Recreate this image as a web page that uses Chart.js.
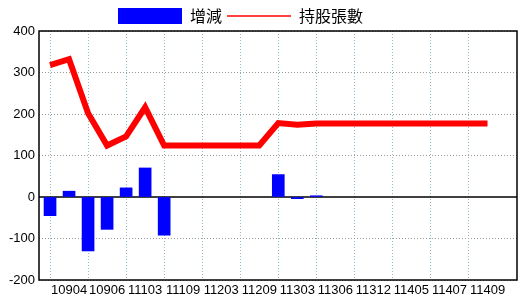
<!DOCTYPE html>
<html>
<head>
<meta charset="utf-8">
<script src="https://cdn.jsdelivr.net/npm/chart.js@4/dist/chart.umd.min.js"></script>
<style>
  html, body { margin: 0; padding: 0; background: #fff; }
  #wrap { width: 520px; height: 300px; }
</style>
</head>
<body>
<div id="wrap"><canvas id="chart" width="520" height="300"></canvas></div>
<script>
// ── Data ──────────────────────────────────────────────────────────────────────
const PERIODS = ['10903','10904','10905','10906','11012','11103','11106','11109',
                 '11112','11203','11206','11209','11212','11303','11304','11306',
                 '11309','11312','11403','11405','11406','11407','11408','11409'];
const CHANGE  = [-45, 14, -130, -78, 22, 70, -92, 0, 0, 0, 0, 0,
                  54, -4, 3, 0, 0, 0, 0, 0, 0, 0, 0, 0];
const HOLDING = [318, 332, 202, 124, 146, 216, 124, 124, 124, 124, 124, 124,
                 178, 174, 177, 177, 177, 177, 177, 177, 177, 177, 177, 177];
const Y_TICKS = [-200, -100, 0, 100, 200, 300, 400];

const BAR_COLOR  = '#0000ff';
const LINE_COLOR = '#ff0000';
const FONT = "'Liberation Sans Narrow', 'Liberation Sans', Arial, sans-serif";

// ── Frame + zero line ────────────────────────────────────────────────────────
const framePlugin = {
  id: 'frame',
  beforeDatasetsDraw(chart) {
    const { ctx, chartArea: a, scales: { y } } = chart;
    const y0 = y.getPixelForValue(0);
    ctx.save();
    ctx.strokeStyle = '#000';
    ctx.lineWidth = 1.5;
    ctx.beginPath();
    ctx.moveTo(a.left, y0);
    ctx.lineTo(a.right, y0);
    ctx.stroke();
    ctx.restore();
  },
  afterDatasetsDraw(chart) {
    const { ctx, chartArea: a } = chart;
    ctx.save();
    ctx.strokeStyle = '#000';
    ctx.lineWidth = 1.5;
    ctx.strokeRect(a.left, a.top, a.right - a.left, a.bottom - a.top);
    ctx.restore();
  },
};

// legend sits a bit left of centre in the original
const legendShift = {
  id: 'legendShift',
  afterLayout(chart) {
    const lg = chart.legend;
    lg.left -= 18; lg.right -= 18;
    lg.top += 3;  lg.bottom += 3;
  },
};

// ── Chart ────────────────────────────────────────────────────────────────────
new Chart(document.getElementById('chart'), {
  type: 'bar',
  data: {
    datasets: [
      {
        type: 'line',
        label: '持股張數',
        data: HOLDING.map((v, i) => ({ x: i, y: v })),
        borderColor: LINE_COLOR,
        borderWidth: 6,
        pointRadius: 0,
        tension: 0,
        order: 0,
      },
      {
        type: 'bar',
        label: '增減',
        // zero changes draw nothing
        data: CHANGE.map((v, i) => ({ x: i, y: v === 0 ? null : v })),
        backgroundColor: BAR_COLOR,
        barThickness: 12,
        order: 1,
      },
    ],
  },
  options: {
    responsive: false,
    animation: false,
    layout: { padding: { top: 0, right: 3, left: 0, bottom: 0 } },
    plugins: {
      tooltip: { enabled: false },
      legend: {
        position: 'top',
        labels: {
          usePointStyle: true,
          pointStyleWidth: 64,
          boxHeight: 16,
          padding: 5,
          color: '#000',
          font: { family: "'Noto Sans CJK TC', sans-serif", size: 16 },
          generateLabels: () => [
            { text: '增減', fillStyle: BAR_COLOR, strokeStyle: BAR_COLOR,
              lineWidth: 0, pointStyle: 'rect', datasetIndex: 1 },
            { text: '持股張數', fillStyle: LINE_COLOR, strokeStyle: LINE_COLOR,
              lineWidth: 1.5, pointStyle: 'line', datasetIndex: 0 },
          ],
        },
      },
    },
    scales: {
      x: {
        type: 'linear',
        offset: false,
        min: -0.58,
        max: 24.55,
        afterFit: s => { s.height = 20; },
        border: { display: false, dash: [1, 2] },
        grid: {
          offset: false,
          lineWidth: 1,
          drawTicks: false,
          color: c => (c.tick && c.tick.value % 2 === 0 && c.tick.value <= 22) ? '#8fb8cf' : 'transparent',
        },
        ticks: {
          stepSize: 1,
          maxTicksLimit: 100,
          includeBounds: false,
          autoSkip: false,
          maxRotation: 0,
          padding: 3,
          color: '#000',
          font: { family: FONT, size: 13 },
          callback: v => (v % 2 === 1 && PERIODS[v]) ? PERIODS[v] : '',
        },
      },
      y: {
        min: Y_TICKS[0],
        max: Y_TICKS[Y_TICKS.length - 1],
        afterFit: s => { s.width = 39; },
        afterBuildTicks: s => { s.ticks = Y_TICKS.map(v => ({ value: v })); },
        border: { display: false, dash: [1, 2] },
        grid: {
          lineWidth: 1,
          drawTicks: false,
          color: c => (c.tick && c.tick.value !== 0) ? '#999999' : 'transparent',
        },
        ticks: {
          padding: 4,
          color: '#000',
          font: { family: FONT, size: 13 },
        },
      },
    },
  },
  plugins: [framePlugin, legendShift],
});
</script>
</body>
</html>
